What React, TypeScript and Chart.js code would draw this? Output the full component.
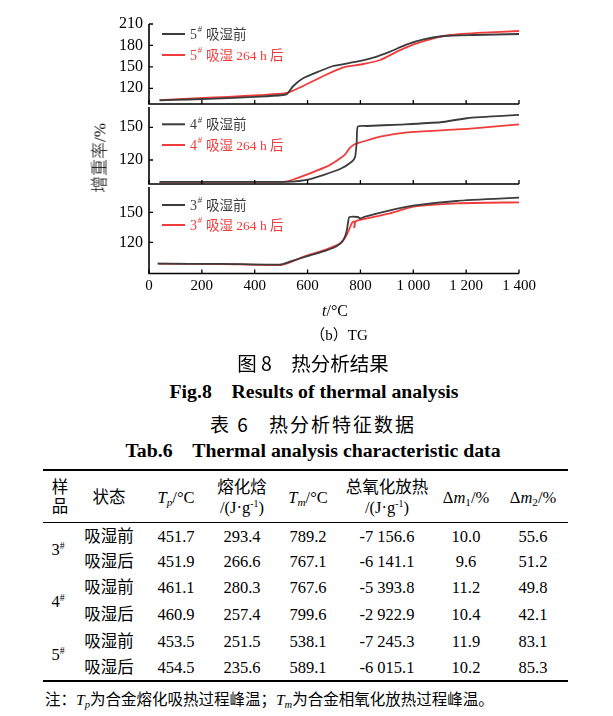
import React, { useEffect, useRef } from "react";
import { Chart, registerables } from "chart.js";

Chart.register(...registerables);

const SERIF = '"Liberation Serif", "Noto Sans CJK SC", serif';
const CJK = '"Noto Sans CJK SC", "Liberation Sans", sans-serif';

// ---------- chart data ----------
const tempTicks = [0, 200, 400, 600, 800, 1000, 1200, 1400];
const tempTickLabels = ["0", "200", "400", "600", "800", "1 000", "1 200", "1 400"];

const y5Ticks = [120, 150, 180, 210];
const y4Ticks = [120, 150];
const y3Ticks = [120, 150];

const s5BeforeT = [40, 150, 300, 420, 507, 522, 546, 583, 647, 697, 786, 849, 912, 976, 1039, 1115, 1228, 1400];
const s5BeforeV = [103, 104.3, 106.3, 108.3, 110.6, 112, 123.2, 134, 144.2, 151.2, 157.2, 162.9, 171.3, 181.5, 188.5, 193.2, 194.6, 196];
const s5AfterT = [40, 150, 300, 420, 522, 583, 660, 735, 811, 875, 938, 1001, 1077, 1140, 1266, 1400];
const s5AfterV = [103.5, 105.5, 108, 110.5, 113.5, 123.2, 137.2, 149.3, 154, 159.6, 171.3, 181.5, 190, 194.6, 197.9, 200.2];

const s4BeforeT = [40, 300, 540, 596, 659, 723, 767, 780, 786, 790, 824, 950, 1103, 1203, 1400];
const s4BeforeV = [100, 100, 100.2, 101.7, 106.2, 111.7, 118.4, 123, 136.8, 150.6, 151.2, 152.5, 154.6, 158.3, 161.3];
const s4AfterT = [40, 300, 520, 558, 609, 672, 710, 742, 761, 780, 805, 875, 976, 1103, 1228, 1400];
const s4AfterV = [100, 100, 100.2, 103.2, 107.8, 113.9, 119.4, 125.2, 131.3, 134.7, 136.5, 141.4, 145.4, 147.2, 149, 152.7];

const s3BeforeT = [33, 280, 495, 533, 596, 672, 710, 735, 748, 754, 758, 790, 800, 815, 912, 999, 1164, 1400];
const s3BeforeV = [98.6, 98.4, 97.7, 100.6, 106, 112, 116, 122, 131.3, 141.3, 145.3, 145.3, 143.8, 145.5, 152, 156.6, 161.3, 164.6];
const s3AfterT = [33, 280, 495, 533, 596, 672, 723, 748, 767, 775, 779, 776, 782, 800, 912, 1001, 1165, 1400];
const s3AfterV = [98.6, 98.3, 97.3, 100, 106.6, 113, 119, 127.3, 139, 141, 137.5, 135, 141, 142.5, 149, 155.6, 159, 160];

const legendBefore = "吸湿前";
const legendAfter = "吸湿 264 h 后";

// ---------- table data ----------
const tableSamples = ["3", "4", "5"];
const rowStates = ["吸湿前", "吸湿后", "吸湿前", "吸湿后", "吸湿前", "吸湿后"];
const colTp = ["451.7", "451.9", "461.1", "460.9", "453.5", "454.5"];
const colMeltH = ["293.4", "266.6", "280.3", "257.4", "251.5", "235.6"];
const colTm = ["789.2", "767.1", "767.6", "799.6", "538.1", "589.1"];
const colOxHeat = ["-7 156.6", "-6 141.1", "-5 393.8", "-2 922.9", "-7 245.3", "-6 015.1"];
const colDm1 = ["10.0", "9.6", "11.2", "10.4", "11.9", "10.2"];
const colDm2 = ["55.6", "51.2", "49.8", "42.1", "83.1", "85.3"];

// ---------- styling / layout ----------
const BLACK = "#3c3c3c";
const RED = "#f03b3b";
const W = 613;
const PLOT_LEFT = 149;
const PLOT_RIGHT = 519;

type PanelSpec = {
  top: number;
  height: number;
  padTop: number;
  padBottom: number;
  xAxisH: number;
  showX: boolean;
  yMin: number;
  yMax: number;
  yTicks: number[];
  sample: string;
  before: { t: number[]; v: number[] };
  after: { t: number[]; v: number[] };
  legendY: number[];
};

const panels: PanelSpec[] = [
  { top: 0, height: 128, padTop: 24, padBottom: 24, xAxisH: 0, showX: false, yMin: 98, yMax: 210, yTicks: y5Ticks, sample: "5",
    before: { t: s5BeforeT, v: s5BeforeV }, after: { t: s5AfterT, v: s5AfterV }, legendY: [34, 55] },
  { top: 77, height: 131, padTop: 30, padBottom: 24, xAxisH: 0, showX: false, yMin: 98, yMax: 168.6, yTicks: y4Ticks, sample: "4",
    before: { t: s4BeforeT, v: s4BeforeV }, after: { t: s4AfterT, v: s4AfterV }, legendY: [124.3, 145] },
  { top: 157, height: 153, padTop: 30, padBottom: 10.5, xAxisH: 26, showX: true, yMin: 88.8, yMax: 175.3, yTicks: y3Ticks, sample: "3",
    before: { t: s3BeforeT, v: s3BeforeV }, after: { t: s3AfterT, v: s3AfterV }, legendY: [205, 225] },
];

const zip = (t: number[], v: number[]) => t.map((x, i) => ({ x, y: v[i] }));

const axesPlugin = {
  id: "inwardAxes",
  afterDatasetsDraw(chart: any, _args: any, opts: any) {
    const { ctx, chartArea: a } = chart;
    const xs = chart.scales.x;
    const ys = chart.scales.y;
    ctx.save();
    ctx.strokeStyle = "#000";
    ctx.lineWidth = 1.6;
    ctx.beginPath();
    ctx.moveTo(a.left, a.top);
    ctx.lineTo(a.left, a.bottom);
    ctx.lineTo(a.right, a.bottom);
    ctx.stroke();
    ctx.lineWidth = 1.3;
    ctx.beginPath();
    for (const t of tempTicks) {
      const px = xs.getPixelForValue(t);
      ctx.moveTo(px, a.bottom);
      ctx.lineTo(px, a.bottom - 4);
    }
    for (const v of opts.yTicks as number[]) {
      const py = ys.getPixelForValue(v);
      ctx.moveTo(a.left, py);
      ctx.lineTo(a.left + 4, py);
    }
    ctx.stroke();
    ctx.restore();
  },
};

const legendPlugin = {
  id: "panelLegend",
  afterDraw(chart: any, _args: any, opts: any) {
    const ctx = chart.ctx;
    for (const it of opts.items) {
      const y = it.y - opts.canvasTop;
      ctx.save();
      ctx.strokeStyle = it.color;
      ctx.lineWidth = 2;
      ctx.beginPath();
      ctx.moveTo(162, y);
      ctx.lineTo(185, y);
      ctx.stroke();
      ctx.fillStyle = it.color;
      ctx.textBaseline = "middle";
      ctx.textAlign = "left";
      ctx.font = `14px ${SERIF}`;
      ctx.fillText(it.num, 190, y + 1);
      const w = ctx.measureText(it.num).width;
      ctx.font = `italic 9px ${SERIF}`;
      ctx.fillText("#", 190 + w + 0.5, y - 4);
      ctx.font = `13.5px ${SERIF}`;
      ctx.fillText(it.text, 206, y + 1);
      ctx.restore();
    }
  },
};

function PanelChart({ p }: { p: PanelSpec }) {
  const ref = useRef<HTMLCanvasElement>(null);
  useEffect(() => {
    const chart = new Chart(ref.current as HTMLCanvasElement, {
      type: "line",
      data: {
        datasets: [
          { data: zip(p.before.t, p.before.v), borderColor: BLACK, borderWidth: 1.8, pointRadius: 0, fill: false, tension: 0.2 },
          { data: zip(p.after.t, p.after.v), borderColor: RED, borderWidth: 1.8, pointRadius: 0, fill: false, tension: 0.2 },
        ],
      },
      options: {
        responsive: false,
        maintainAspectRatio: false,
        animation: false,
        events: [],
        layout: { padding: { left: 0, right: W - PLOT_RIGHT, top: p.padTop, bottom: p.padBottom } },
        plugins: {
          legend: { display: false },
          tooltip: { enabled: false },
          title: { display: false },
          inwardAxes: { yTicks: p.yTicks },
          panelLegend: {
            canvasTop: p.top,
            items: [
              { num: p.sample, text: legendBefore, color: BLACK, y: p.legendY[0] },
              { num: p.sample, text: legendAfter, color: RED, y: p.legendY[1] },
            ],
          },
        } as any,
        scales: {
          x: {
            type: "linear",
            min: 0,
            max: 1400,
            grid: { display: false, drawTicks: false },
            border: { display: false },
            ticks: {
              display: p.showX,
              autoSkip: false,
              maxRotation: 0,
              padding: 4,
              color: "#000",
              font: { family: SERIF, size: 15 },
              callback: (v: any) => tempTickLabels[tempTicks.indexOf(Number(v))] ?? "",
            },
            afterBuildTicks: (s: any) => {
              s.ticks = tempTicks.map((v) => ({ value: v }));
            },
            afterFit: (s: any) => {
              s.height = p.xAxisH;
            },
          },
          y: {
            type: "linear",
            min: p.yMin,
            max: p.yMax,
            grid: { display: false, drawTicks: false },
            border: { display: false },
            ticks: {
              padding: 6,
              color: "#000",
              font: { family: SERIF, size: 16 },
              callback: (v: any) => String(v),
            },
            afterBuildTicks: (s: any) => {
              s.ticks = p.yTicks.map((v) => ({ value: v }));
            },
            afterFit: (s: any) => {
              s.width = PLOT_LEFT;
            },
          },
        },
      },
      plugins: [axesPlugin, legendPlugin],
    });
    return () => chart.destroy();
  }, [p]);
  return (
    <canvas
      ref={ref}
      width={W}
      height={p.height}
      style={{ position: "absolute", left: 0, top: p.top, width: W, height: p.height }}
    />
  );
}

function Txt({ x, y, children, style, align = "center" }: any) {
  const tx = align === "center" ? "-50%" : align === "left" ? "0" : "-100%";
  return (
    <div
      style={{
        position: "absolute",
        left: x,
        top: y,
        transform: `translate(${tx}, -50%)`,
        whiteSpace: "nowrap",
        lineHeight: 1,
        fontFamily: SERIF,
        color: "#000",
        ...style,
      }}
    >
      {children}
    </div>
  );
}

const Sup = ({ children }: any) => (
  <span style={{ fontSize: "0.6em", position: "relative", top: "-0.6em" }}>{children}</span>
);
const Sub = ({ children }: any) => (
  <span style={{ fontSize: "0.68em", position: "relative", top: "0.3em" }}>{children}</span>
);

const colX = [109, 176, 242, 308, 387, 466, 533];
const rowY = [536.7, 562.3, 588.3, 615, 641.7, 668.3];
const sampleY = [549.5, 601.7, 655];
const TABLE_L = 43;
const TABLE_R = 568;

export default function App() {
  const cols = [rowStates, colTp, colMeltH, colTm, colOxHeat, colDm1, colDm2];
  const fs = 16.5;
  return (
    <div style={{ position: "absolute", left: 0, top: 0, width: W, height: 716, background: "#fff", overflow: "hidden" }}>
      {panels.map((p, i) => (
        <PanelChart key={i} p={p} />
      ))}

      <Txt x={100} y={158} style={{ fontSize: 17, fontWeight: 300, transform: "translate(-50%, -50%) rotate(-90deg)" }}>
        增重率/%
      </Txt>
      <Txt x={335} y={311} style={{ fontSize: 16 }}>
        <i>t</i>/°C
      </Txt>
      <Txt x={339} y={335} style={{ fontSize: 15 }}>
        （b）TG
      </Txt>

      <Txt x={313} y={363} style={{ fontSize: 19.5, fontFamily: CJK }}>
        图 8<span style={{ marginLeft: "1em" }}>热分析结果</span>
      </Txt>
      <Txt x={314} y={392} style={{ fontSize: 19.8, fontWeight: "bold" }}>
        Fig.8<span style={{ marginLeft: "1em" }}>Results of thermal analysis</span>
      </Txt>
      <Txt x={313} y={423} style={{ fontSize: 19, fontFamily: CJK, letterSpacing: 2 }}>
        表 6<span style={{ marginLeft: "1em" }}>热分析特征数据</span>
      </Txt>
      <Txt x={313} y={451} style={{ fontSize: 19.8, fontWeight: "bold" }}>
        Tab.6<span style={{ marginLeft: "1em" }}>Thermal analysis characteristic data</span>
      </Txt>

      {/* table rules */}
      <div style={{ position: "absolute", left: TABLE_L, width: TABLE_R - TABLE_L, top: 469, height: 2, background: "#000" }} />
      <div style={{ position: "absolute", left: TABLE_L, width: TABLE_R - TABLE_L, top: 522, height: 1.2, background: "#000" }} />
      <div style={{ position: "absolute", left: TABLE_L, width: TABLE_R - TABLE_L, top: 680, height: 2, background: "#000" }} />

      {/* header */}
      <Txt x={60} y={488} style={{ fontSize: fs }}>样</Txt>
      <Txt x={60} y={507} style={{ fontSize: fs }}>品</Txt>
      <Txt x={colX[0]} y={498} style={{ fontSize: fs }}>状态</Txt>
      <Txt x={colX[1]} y={498} style={{ fontSize: fs }}>
        <i>T</i><Sub><i>p</i></Sub>/°C
      </Txt>
      <Txt x={colX[2]} y={488} style={{ fontSize: fs }}>熔化焓</Txt>
      <Txt x={colX[2]} y={508} style={{ fontSize: fs }}>
        /(J·g<Sup>-1</Sup>)
      </Txt>
      <Txt x={colX[3]} y={498} style={{ fontSize: fs }}>
        <i>T</i><Sub><i>m</i></Sub>/°C
      </Txt>
      <Txt x={colX[4]} y={488} style={{ fontSize: fs }}>总氧化放热</Txt>
      <Txt x={colX[4]} y={508} style={{ fontSize: fs }}>
        /(J·g<Sup>-1</Sup>)
      </Txt>
      <Txt x={colX[5]} y={498} style={{ fontSize: fs }}>
        Δ<i>m</i><Sub>1</Sub>/%
      </Txt>
      <Txt x={colX[6]} y={498} style={{ fontSize: fs }}>
        Δ<i>m</i><Sub>2</Sub>/%
      </Txt>

      {/* body */}
      {tableSamples.map((s, i) => (
        <Txt key={"s" + i} x={58} y={sampleY[i]} style={{ fontSize: fs }}>
          {s}
          <Sup>#</Sup>
        </Txt>
      ))}
      {cols.map((col, ci) =>
        col.map((val, ri) => (
          <Txt key={ci + "-" + ri} x={colX[ci]} y={rowY[ri]} style={{ fontSize: fs }}>
            {val}
          </Txt>
        ))
      )}

      <Txt x={45} y={700} align="left" style={{ fontSize: 15.5 }}>
        注：<i>T</i><Sub><i>p</i></Sub>为合金熔化吸热过程峰温；<i>T</i><Sub><i>m</i></Sub>为合金相氧化放热过程峰温。
      </Txt>
    </div>
  );
}
